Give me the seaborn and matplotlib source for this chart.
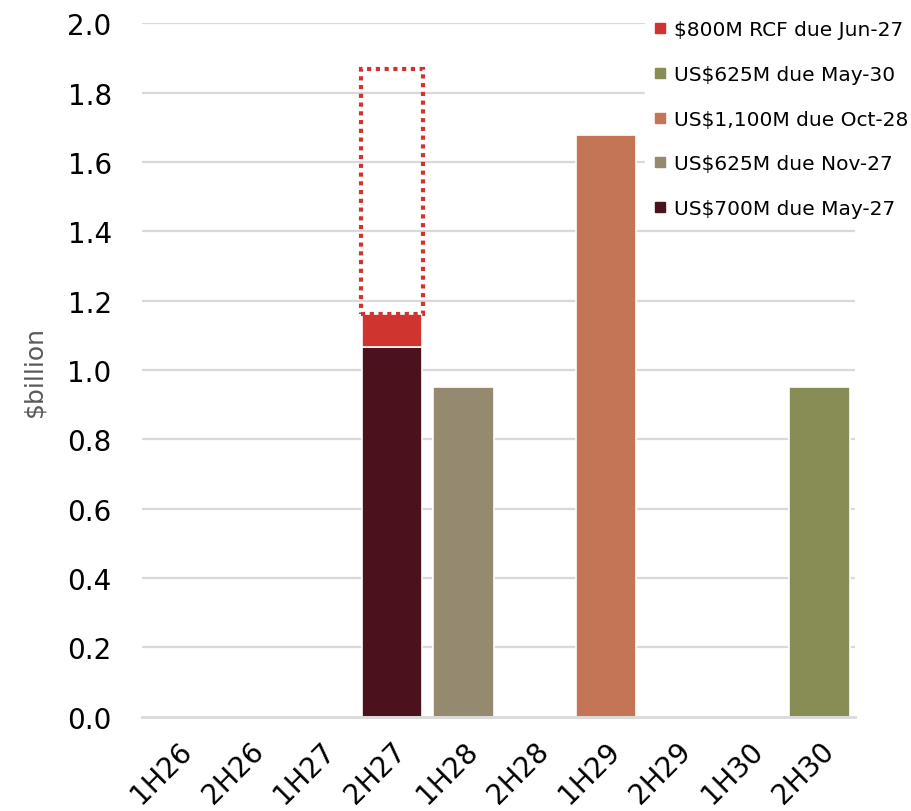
import numpy as np
import pandas as pd
import matplotlib.pyplot as plt
from matplotlib.lines import Line2D
import seaborn as sns

# ---------------------------------------------------------
# Data ($billion)
# ---------------------------------------------------------
periods = ['1H26', '2H26', '1H27', '2H27', '1H28', '2H28', '1H29', '2H29', '1H30', '2H30']

usd700_may27 = [0, 0, 0, 1.066, 0, 0, 0, 0, 0, 0]
usd625_nov27 = [0, 0, 0, 0, 0.951, 0, 0, 0, 0, 0]
usd1100_oct28 = [0, 0, 0, 0, 0, 0, 1.677, 0, 0, 0]
usd625_may30 = [0, 0, 0, 0, 0, 0, 0, 0, 0, 0.951]
rcf_drawn = [0, 0, 0, 0.096, 0, 0, 0, 0, 0, 0]
rcf_undrawn = [0, 0, 0, 0.705, 0, 0, 0, 0, 0, 0]

labels = {
    'rcf': '$800M RCF due Jun-27',
    'may30': 'US$625M due May-30',
    'oct28': 'US$1,100M due Oct-28',
    'nov27': 'US$625M due Nov-27',
    'may27': 'US$700M due May-27',
}
colors = {
    'rcf': '#CF352E',
    'may30': '#878D55',
    'oct28': '#C47555',
    'nov27': '#958970',
    'may27': '#4B121E',
}

# long table for the base bars
rows = []
for key, vals in [('may27', usd700_may27), ('nov27', usd625_nov27),
                  ('oct28', usd1100_oct28), ('may30', usd625_may30)]:
    for p, v in zip(periods, vals):
        if v > 0:
            rows.append({'period': p, 'value': v, 'series': key})
df = pd.DataFrame(rows)

# ---------------------------------------------------------
# Style
# ---------------------------------------------------------
sns.set_theme(style='white')
plt.rcParams['font.family'] = ['DejaVu Sans']

fig = plt.figure(figsize=(9.12, 8.12), dpi=100)
ax = fig.add_axes([0.156, 0.116, 0.782, 0.854])

grid_c = '#D9D9D9'
for y in np.arange(0.2, 2.01, 0.2):
    ax.axhline(y, color=grid_c, lw=1.6, zorder=0)

# ---------------------------------------------------------
# Bars
# ---------------------------------------------------------
bw = 0.85
sns.barplot(data=df, x='period', y='value', hue='series', order=periods,
            hue_order=['may27', 'nov27', 'oct28', 'may30'],
            palette=colors, saturation=1, dodge=False, width=bw, errorbar=None,
            edgecolor='white', linewidth=1.2, legend=False, ax=ax, zorder=2)

xpos = np.arange(len(periods))
drawn = np.array(rcf_drawn)
undrawn = np.array(rcf_undrawn)
base = np.array(usd700_may27)
m = drawn > 0
ax.bar(xpos[m], drawn[m], bottom=base[m], width=bw, color=colors['rcf'],
       edgecolor='white', linewidth=1.2, zorder=3)
m2 = undrawn > 0
ax.bar(xpos[m2], undrawn[m2], bottom=(base + drawn)[m2], width=bw + 0.02,
       fill=False, edgecolor=colors['rcf'], linestyle=(0, (1, 1.1)),
       linewidth=3, zorder=3)

# ---------------------------------------------------------
# Axes
# ---------------------------------------------------------
ax.set_xlim(-0.5, len(periods) - 0.5)
ax.set_ylim(0, 2.0)
ax.set_yticks(np.arange(0, 2.01, 0.2))
ax.set_yticklabels([f'{v:.1f}' for v in np.arange(0, 2.01, 0.2)])
ax.tick_params(axis='both', length=0, labelsize=20, colors='black')
ax.tick_params(axis='y', pad=22)
ax.tick_params(axis='x', pad=14)
plt.setp(ax.get_xticklabels(), rotation=45, ha='right', rotation_mode='anchor')

for s in ['left', 'top', 'right']:
    ax.spines[s].set_visible(False)
ax.spines['bottom'].set_color(grid_c)
ax.spines['bottom'].set_linewidth(2)

ax.set_xlabel('')
ax.set_ylabel('$billion', fontsize=18, color='#595959')
ax.yaxis.set_label_coords(-0.135, 0.5)

# ---------------------------------------------------------
# Legend
# ---------------------------------------------------------
order = ['rcf', 'may30', 'oct28', 'nov27', 'may27']
handles = [Line2D([], [], marker='s', linestyle='', markersize=7,
                  color=colors[k]) for k in order]
leg = fig.legend(handles, [labels[k] for k in order], loc='upper right',
                 bbox_to_anchor=(1.011, 0.991), fontsize=14.5, frameon=True,
                 framealpha=1, edgecolor='white', facecolor='white',
                 labelcolor='black',
                 labelspacing=1.27, handlelength=0.7, handletextpad=0.3,
                 borderaxespad=0.3)

fig.savefig('out.png', dpi=100, facecolor='white')
